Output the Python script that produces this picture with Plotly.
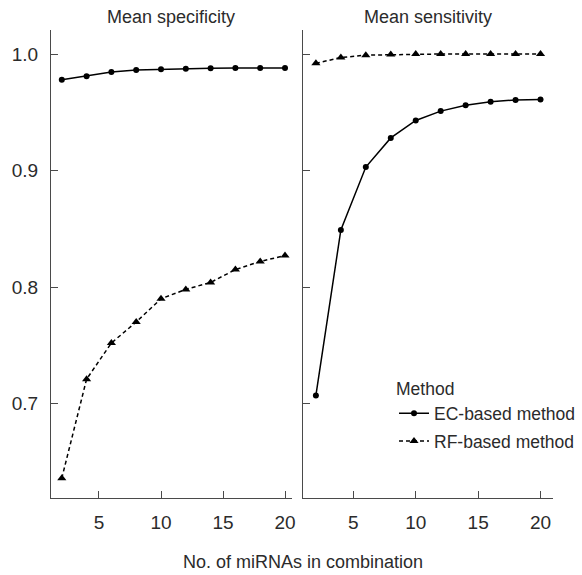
import plotly.graph_objects as go

n_mirnas = [2, 4, 6, 8, 10, 12, 14, 16, 18, 20]

spec_ec = [0.978, 0.981, 0.9846, 0.9863, 0.9869, 0.9874, 0.9877, 0.988, 0.988, 0.988]
spec_rf = [0.636, 0.721, 0.752, 0.770, 0.790, 0.798, 0.804, 0.815, 0.822, 0.827]

sens_ec = [0.707, 0.849, 0.903, 0.928, 0.943, 0.951, 0.956, 0.959, 0.9606, 0.961]
sens_rf = [0.992, 0.997, 0.999, 0.9995, 1.0, 1.0, 1.0, 1.0, 1.0, 1.0]

panel_titles = ["Mean specificity", "Mean sensitivity"]
series_names = ["EC-based method", "RF-based method"]
y_ticks = [0.7, 0.8, 0.9, 1.0]
y_tick_text = ["0.7", "0.8", "0.9", "1.0"]
x_ticks = [5, 10, 15, 20]

FONT = "Liberation Sans, Arial, Helvetica, sans-serif"
TXT = "#2b2b2b"
AX = "#4a4a4a"

W, H = 582, 575
ML, MR, MT, MB = 51, 29, 30, 77

fig = go.Figure()

ec_style = dict(mode="lines+markers", line=dict(color="black", width=1.5),
                marker=dict(symbol="circle", size=6, color="black"))
rf_style = dict(mode="lines+markers", line=dict(color="black", width=1.5, dash="4px,3px"),
                marker=dict(symbol="triangle-up", size=8, color="black"))

fig.add_trace(go.Scatter(x=n_mirnas, y=spec_ec, name=series_names[0], xaxis="x", yaxis="y",
                         legendgroup="ec", showlegend=True, **ec_style))
fig.add_trace(go.Scatter(x=n_mirnas, y=spec_rf, name=series_names[1], xaxis="x", yaxis="y",
                         legendgroup="rf", showlegend=True, **rf_style))
fig.add_trace(go.Scatter(x=n_mirnas, y=sens_ec, name=series_names[0], xaxis="x2", yaxis="y2",
                         legendgroup="ec", showlegend=False, **ec_style))
fig.add_trace(go.Scatter(x=n_mirnas, y=sens_rf, name=series_names[1], xaxis="x2", yaxis="y2",
                         legendgroup="rf", showlegend=False, **rf_style))

pw = W - ML - MR
ph = H - MT - MB
d1 = [0, (291.7 - ML) / pw]
d2 = [(303.3 - ML) / pw, 1]

TICKSIZE = 19
TITLESIZE = 18
LEGSIZE = 17.5

common_x = dict(tickmode="array", tickvals=x_ticks, ticks="inside", ticklen=7, tickwidth=1,
                tickcolor=AX, showline=True, linecolor=AX, linewidth=1.2, showgrid=False,
                zeroline=False, ticklabelstandoff=7,
                tickfont=dict(family=FONT, size=TICKSIZE, color=TXT))
common_y = dict(tickmode="array", tickvals=y_ticks, ticks="inside", ticklen=7, tickwidth=1,
                tickcolor=AX, showline=True, linecolor=AX, linewidth=1.2, showgrid=False,
                zeroline=False, range=[0.619, 1.0206])

fig.update_layout(
    width=W, height=H,
    margin=dict(l=ML, r=MR, t=MT, b=MB, autoexpand=False),
    paper_bgcolor="white", plot_bgcolor="white",
    font=dict(family=FONT, color=TXT, size=TITLESIZE),
    xaxis=dict(domain=d1, range=[1.13, 20.54], anchor="y", **common_x),
    xaxis2=dict(domain=d2, range=[0.99, 21.0], anchor="y2", **common_x),
    yaxis=dict(domain=[0, 1], anchor="x", ticktext=y_tick_text, showticklabels=True,
               ticklabelstandoff=8,
               tickfont=dict(family=FONT, size=TICKSIZE, color=TXT), **common_y),
    yaxis2=dict(domain=[0, 1], anchor="x2", showticklabels=False, **common_y),
    legend=dict(
        title=dict(text="Method", font=dict(family=FONT, size=LEGSIZE, color=TXT)),
        x=(394 - ML) / pw, y=(498.3 - 373) / ph, xanchor="left", yanchor="top",
        font=dict(family=FONT, size=LEGSIZE, color=TXT), bgcolor="rgba(0,0,0,0)",
        itemwidth=30, tracegroupgap=2,
    ),
    showlegend=True,
    annotations=[
        dict(text=panel_titles[0], x=(d1[0] + d1[1]) / 2, y=1, xref="paper", yref="paper",
             xanchor="center", yanchor="middle", yshift=30 - 16.7, showarrow=False,
             font=dict(family=FONT, size=TITLESIZE, color=TXT)),
        dict(text=panel_titles[1], x=(d2[0] + d2[1]) / 2, y=1, xref="paper", yref="paper",
             xanchor="center", yanchor="middle", yshift=30 - 16.7, showarrow=False,
             font=dict(family=FONT, size=TITLESIZE, color=TXT)),
        dict(text="No. of miRNAs in combination", x=(303 - ML) / pw, y=0, xref="paper",
             yref="paper", xanchor="center", yanchor="middle", yshift=-(562 - 498.3),
             showarrow=False, font=dict(family=FONT, size=TITLESIZE, color=TXT)),
    ],
)

fig.write_html("out.html", config={"displayModeBar": False},
               post_script="document.body.style.margin='0';")
